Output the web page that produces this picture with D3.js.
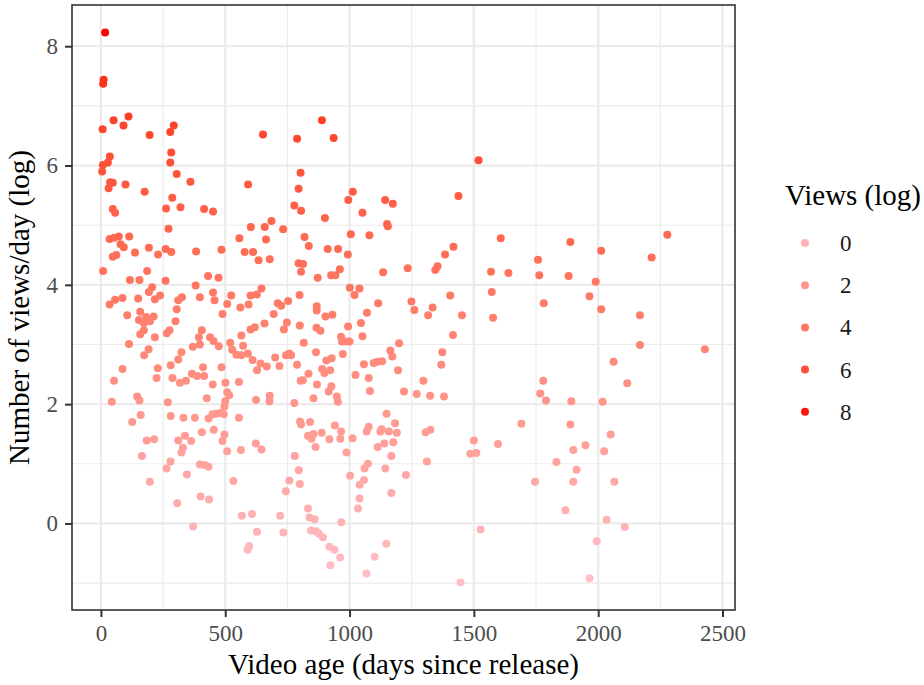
<!DOCTYPE html>
<html>
<head>
<meta charset="utf-8">
<script src="https://cdn.jsdelivr.net/npm/d3@7"></script>
<style>
  body { margin: 0; background: #fff; }
  text { font-family: "Liberation Serif", serif; }
</style>
</head>
<body>
<svg id="scatter" width="924" height="685"></svg>
<script>
// video age in days since release
const ageDays = [
  17, 11, 9, 51, 111, 91, 7, 196, 293, 279,
  652, 789, 283, 279, 36, 28, 8, 5, 305, 360,
  592, 803, 795, 778, 805, 37, 48, 31, 99, 176,
  287, 262, 320, 415, 451, 48, 57, 889, 936, 1519,
  1013, 995, 1143, 1174, 1438, 1052, 901, 1151, 1154, 1005,
  272, 603, 659, 686, 733, 35, 53, 72, 114, 79,
  92, 137, 193, 230, 260, 283, 383, 485, 557, 664,
  578, 612, 634, 679, 48, 62, 9, 186, 117, 155,
  260, 431, 473, 795, 805, 381, 206, 193, 238, 217,
  87, 57, 35, 150, 326, 311, 398, 451, 457, 524,
  508, 561, 594, 602, 627, 646, 305, 489, 106, 158,
  153, 182, 212, 173, 197, 158, 173, 300, 276, 265,
  217, 406, 394, 439, 453, 474, 398, 370, 113, 192,
  174, 324, 311, 520, 528, 545, 565, 591, 610, 572,
  565, 602, 619, 658, 695, 711, 725, 753, 748, 736,
  799, 800, 701, 718, 744, 765, 757, 667, 642, 628,
  789, 803, 87, 53, 229, 224, 281, 288, 318, 342,
  366, 387, 415, 411, 450, 485, 501, 555, 508, 516,
  624, 679, 678, 44, 146, 155, 269, 426, 500, 778,
  1080, 819, 836, 912, 954, 993, 813, 872, 926, 943,
  961, 1135, 1234, 1345, 1354, 1384, 1418, 1608, 1569, 1639,
  1572, 1577, 1001, 1040, 1020, 1115, 1070, 1249, 1261, 1334,
  1316, 1405, 1452, 1416, 868, 868, 903, 931, 867, 883,
  994, 1046, 1052, 966, 970, 986, 1000, 816, 973, 865,
  907, 928, 890, 899, 922, 835, 812, 869, 927, 916,
  855, 949, 953, 1199, 1164, 1172, 1058, 1097, 1111, 1131,
  1195, 1024, 1077, 1082, 1219, 1297, 1270, 1324, 1380, 1373,
  1369, 1888, 2278, 2012, 1758, 2215, 1763, 1881, 1990, 1965,
  1781, 2012, 2168, 2168, 2429, 2062, 2117, 1779, 1767, 1790,
  1892, 2018, 497, 160, 126, 281, 332, 378, 433, 449,
  463, 481, 494, 555, 801, 805, 184, 214, 165, 311,
  338, 363, 330, 324, 406, 454, 497, 489, 508, 563,
  623, 646, 780, 280, 264, 398, 417, 433, 346, 197,
  533, 796, 758, 744, 800, 307, 401, 435, 371, 567,
  608, 721, 628, 734, 596, 590, 1149, 841, 941, 966,
  963, 833, 855, 847, 888, 863, 919, 1012, 988, 1077,
  1069, 1124, 1129, 1158, 1183, 1190, 1176, 1140, 1113, 1168,
  1306, 1325, 1311, 1500, 1597, 1486, 1510, 1074, 1060, 1144,
  1002, 1058, 1041, 1227, 1168, 1040, 1034, 833, 839, 860,
  967, 845, 865, 876, 893, 919, 939, 962, 923, 1148,
  1101, 1068, 1527, 1446, 1691, 1888, 2050, 1949, 1900, 2024,
  1832, 1913, 1746, 1900, 2065, 1868, 2034, 2107, 1994, 1965
];

// number of views per day (log), same order as ageDays
const viewsPerDayLog = [
  8.23, 7.44, 7.37, 6.76, 6.82, 6.67, 6.61, 6.51, 6.67, 6.56,
  6.52, 6.45, 6.22, 6.05, 6.15, 6.05, 6.01, 5.9, 5.86, 5.73,
  5.68, 5.88, 5.61, 5.33, 5.24, 5.72, 5.71, 5.62, 5.68, 5.56,
  5.46, 5.28, 5.3, 5.27, 5.23, 5.27, 5.21, 6.76, 6.46, 6.09,
  5.56, 5.42, 5.42, 5.36, 5.49, 5.21, 5.12, 5.02, 4.98, 4.85,
  4.94, 4.97, 4.97, 5.07, 4.93, 4.77, 4.79, 4.81, 4.81, 4.68,
  4.63, 4.54, 4.62, 4.51, 4.6, 4.55, 4.56, 4.59, 4.78, 4.76,
  4.55, 4.55, 4.41, 4.43, 4.47, 4.5, 4.23, 4.23, 4.08, 4.08,
  4.07, 4.15, 4.12, 4.36, 4.22, 3.99, 3.96, 3.88, 3.82, 3.76,
  3.78, 3.75, 3.67, 3.77, 3.79, 3.74, 3.79, 3.87, 3.74, 3.82,
  3.68, 3.62, 3.67, 3.82, 3.84, 3.94, 3.59, 3.51, 3.49, 3.55,
  3.41, 3.46, 3.47, 3.36, 3.39, 3.17, 3.24, 3.39, 3.24, 3.19,
  3.12, 3.24, 3.12, 3.12, 3.06, 2.97, 3.0, 2.96, 3.01, 2.92,
  2.82, 2.87, 2.75, 3.03, 2.91, 2.83, 2.82, 2.85, 2.74, 2.98,
  3.15, 3.25, 3.29, 3.35, 3.51, 3.69, 3.65, 3.73, 3.37, 3.25,
  3.83, 3.32, 2.78, 2.64, 2.82, 2.82, 2.85, 2.63, 2.68, 2.57,
  2.66, 2.39, 2.59, 2.39, 2.6, 2.44, 2.65, 2.44, 2.36, 2.39,
  2.51, 2.47, 2.47, 2.62, 2.33, 2.62, 2.36, 2.37, 2.2, 2.15,
  2.07, 2.14, 2.05, 2.04, 2.13, 2.06, 2.03, 2.1, 2.05, 2.02,
  4.83, 4.8, 4.65, 4.6, 4.6, 4.51, 4.35, 4.12, 4.16, 4.16,
  4.26, 4.21, 4.28, 4.25, 4.31, 4.51, 4.64, 4.78, 4.22, 4.2,
  3.88, 3.45, 3.95, 3.94, 3.83, 3.69, 3.53, 3.72, 3.58, 3.62,
  3.49, 3.82, 3.49, 3.16, 3.64, 3.57, 3.47, 3.5, 3.28, 3.23,
  3.3, 3.36, 3.14, 3.13, 3.05, 3.05, 3.05, 3.03, 2.84, 2.87,
  2.73, 2.77, 2.59, 2.52, 2.57, 2.51, 2.4, 2.33, 2.3, 2.21,
  2.1, 2.13, 2.04, 3.02, 2.9, 2.8, 2.67, 2.69, 2.71, 2.72,
  2.57, 2.49, 2.44, 2.22, 2.21, 2.39, 2.17, 2.14, 2.13, 2.87,
  2.66, 4.72, 4.84, 4.57, 4.42, 4.46, 4.16, 4.15, 4.05, 3.81,
  3.69, 3.59, 3.49, 2.99, 2.92, 2.71, 2.35, 2.39, 2.18, 2.06,
  2.05, 2.04, 1.96, 1.82, 1.7, 1.8, 1.77, 1.77, 1.76, 1.83,
  1.84, 1.85, 1.83, 1.77, 1.71, 1.66, 1.39, 1.41, 1.13, 1.39,
  1.47, 1.38, 1.27, 1.19, 1.53, 1.57, 1.49, 1.38, 1.21, 1.23,
  1.34, 1.24, 1.13, 1.04, 0.92, 0.99, 0.98, 0.95, 0.82, 0.7,
  0.71, 0.89, 0.72, 0.54, 0.66, 0.34, 0.45, 0.4, -0.05, 0.13,
  0.16, 0.13, -0.14, -0.15, -0.38, -0.44, 1.84, 1.7, 1.64, 1.54,
  1.42, 1.47, 1.5, 1.42, 1.52, 1.28, 1.41, 1.43, 1.19, 1.62,
  1.54, 1.54, 1.58, 1.54, 1.68, 1.52, 1.36, 1.34, 1.28, 1.13,
  1.53, 1.57, 1.04, 1.39, 1.33, 1.17, 1.18, 1.0, 0.92, 0.92,
  0.8, 0.73, 0.65, 0.81, 0.51, 0.42, 0.25, 0.25, 0.1, 0.07,
  0.02, -0.12, -0.13, -0.17, -0.23, -0.39, -0.44, -0.57, -0.7, -0.34,
  -0.56, -0.84, -0.1, -0.99, 1.67, 1.66, 1.49, 1.31, 1.23, 1.21,
  1.03, 0.9, 0.7, 0.7, 0.7, 0.22, 0.06, -0.06, -0.3, -0.92
];

const xTicks = [0, 500, 1000, 1500, 2000, 2500];
const xMinor = [250, 750, 1250, 1750, 2250];
const yTicks = [0, 2, 4, 6, 8];
const yMinor = [-1, 1, 3, 5, 7];
const legendBreaks = [0, 2, 4, 6, 8];

const data = ageDays.map((a, i) => ({ age: a, views: viewsPerDayLog[i] }));

const margin = { top: 5, right: 189, bottom: 75, left: 72 },
    width = 924 - margin.left - margin.right,
    height = 685 - margin.top - margin.bottom;

const svg = d3.select("#scatter");
const g = svg.append("g")
    .attr("transform", `translate(${margin.left},${margin.top})`);

// ggplot style 5% expansion of the data range
function expand(ext) {
    const pad = (ext[1] - ext[0]) * 0.05;
    return [ext[0] - pad, ext[1] + pad];
}

const x = d3.scaleLinear()
    .domain(expand(d3.extent(ageDays)))
    .range([0, width]);

const y = d3.scaleLinear()
    .domain(expand(d3.extent(viewsPerDayLog)))
    .range([height, 0]);

const color = d3.scaleLinear()
    .domain(d3.extent(viewsPerDayLog))
    .range(["pink", "red"])
    .interpolate(d3.interpolateLab);

// grid lines
g.selectAll(".minor-x").data(xMinor).join("line")
    .attr("x1", d => x(d)).attr("x2", d => x(d))
    .attr("y1", 0).attr("y2", height)
    .attr("stroke", "#ebebeb").attr("stroke-width", 1.1);
g.selectAll(".minor-y").data(yMinor).join("line")
    .attr("y1", d => y(d)).attr("y2", d => y(d))
    .attr("x1", 0).attr("x2", width)
    .attr("stroke", "#ebebeb").attr("stroke-width", 1.1);
g.selectAll(".major-x").data(xTicks).join("line")
    .attr("x1", d => x(d)).attr("x2", d => x(d))
    .attr("y1", 0).attr("y2", height)
    .attr("stroke", "#ebebeb").attr("stroke-width", 2.2);
g.selectAll(".major-y").data(yTicks).join("line")
    .attr("y1", d => y(d)).attr("y2", d => y(d))
    .attr("x1", 0).attr("x2", width)
    .attr("stroke", "#ebebeb").attr("stroke-width", 2.2);

// points
g.append("g")
    .selectAll("circle")
    .data(data)
    .join("circle")
    .attr("cx", d => x(d.age))
    .attr("cy", d => y(d.views))
    .attr("r", 4)
    .attr("fill", d => color(d.views));

// panel border
g.append("rect")
    .attr("width", width)
    .attr("height", height)
    .attr("fill", "none")
    .attr("stroke", "#333333")
    .attr("stroke-width", 1.6);

// axes
const xAxis = g.append("g")
    .attr("transform", `translate(0,${height})`)
    .call(d3.axisBottom(x).tickValues(xTicks).tickFormat(d3.format("d")).tickSize(7).tickPadding(8));
const yAxis = g.append("g")
    .call(d3.axisLeft(y).tickValues(yTicks).tickFormat(d3.format("d")).tickSize(7).tickPadding(7));

[xAxis, yAxis].forEach(ax => {
    ax.attr("font-family", "Liberation Serif").attr("font-size", 23);
    ax.select(".domain").remove();
    ax.selectAll(".tick line").attr("stroke", "#333333").attr("stroke-width", 2);
    ax.selectAll(".tick text").attr("fill", "#4d4d4d");
});

// axis titles
svg.append("text")
    .attr("x", margin.left + width / 2)
    .attr("y", 674)
    .attr("text-anchor", "middle")
    .style("font-size", "29px")
    .text("Video age (days since release)");

svg.append("text")
    .attr("transform", `translate(29,${margin.top + height / 2}) rotate(-90)`)
    .attr("text-anchor", "middle")
    .style("font-size", "29px")
    .text("Number of views/day (log)");

// legend
const legend = svg.append("g").attr("transform", "translate(785,0)");
legend.append("text")
    .attr("x", 0)
    .attr("y", 205)
    .style("font-size", "29px")
    .text("Views (log)");

const keys = legend.selectAll(".key")
    .data(legendBreaks)
    .join("g")
    .attr("transform", (d, i) => `translate(0,${243 + i * 42.2})`);
keys.append("circle")
    .attr("cx", 20)
    .attr("r", 4)
    .attr("fill", d => color(d));
keys.append("text")
    .attr("x", 55)
    .attr("dy", "0.35em")
    .style("font-size", "23px")
    .attr("fill", "#1a1a1a")
    .text(d => d);
</script>
</body>
</html>
